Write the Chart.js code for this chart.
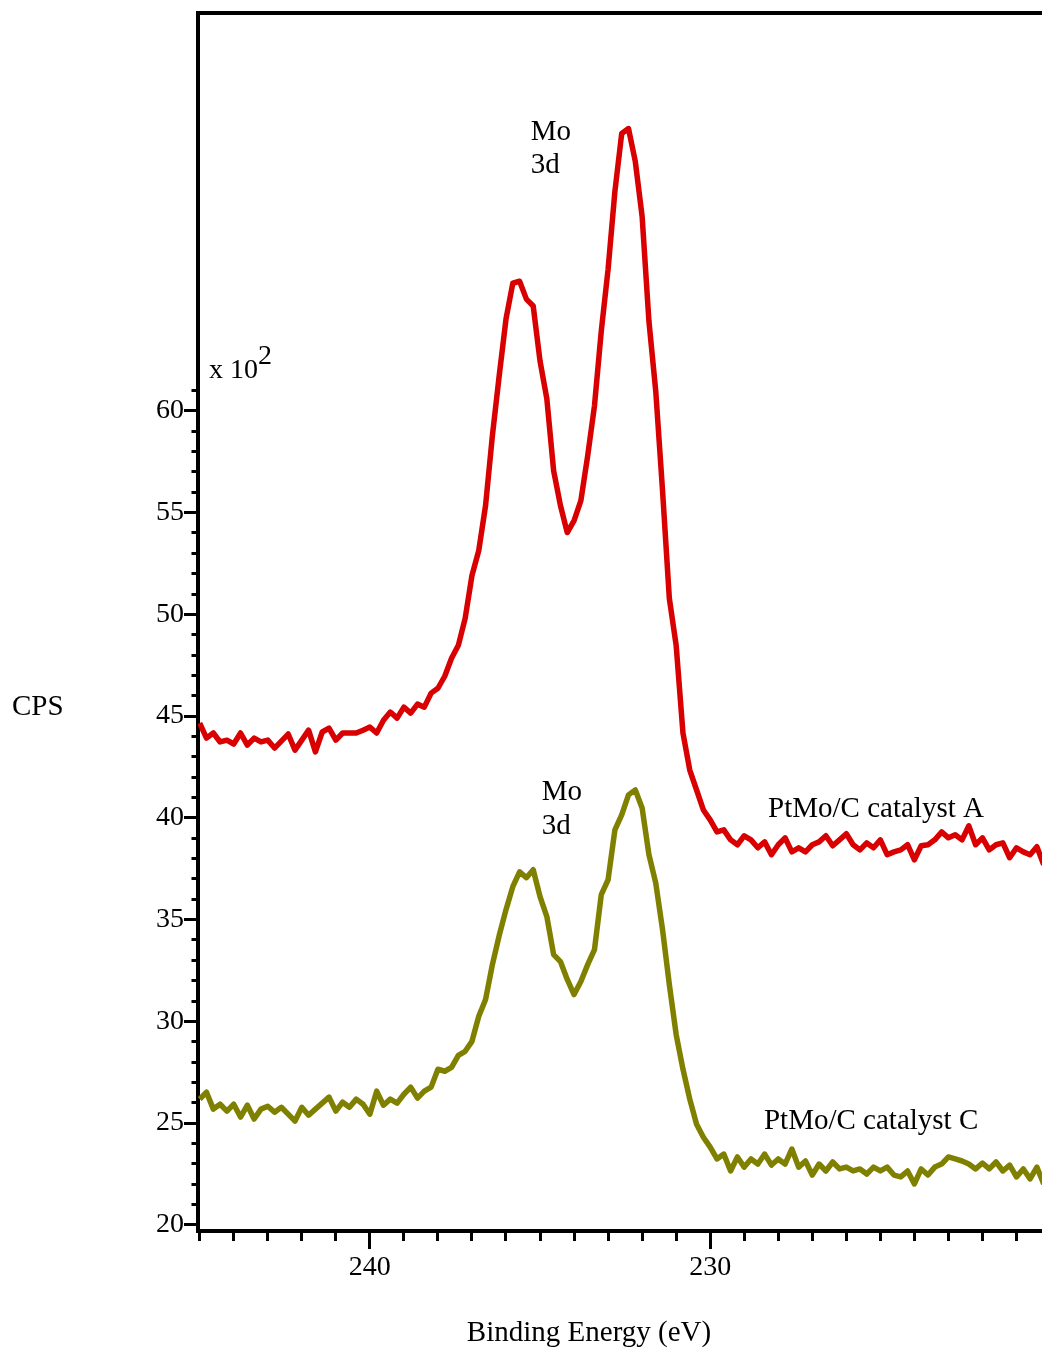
<!DOCTYPE html>
<html>
<head>
<meta charset="utf-8">
<title>Mo 3d XPS</title>
<script src="https://cdn.jsdelivr.net/npm/chart.js@4.4.1/dist/chart.umd.min.js"></script>
<style>
  html, body { margin: 0; padding: 0; background: #fff; }
  #xps { display: block; }
</style>
</head>
<body>
<canvas id="xps" width="1042" height="1350"></canvas>
<script>
// binding energy grid (eV), high to low
var energy = [
  245.0, 244.8, 244.6, 244.4, 244.2, 244.0, 243.8, 243.6, 243.4, 243.2,
  243.0, 242.8, 242.6, 242.4, 242.2, 242.0, 241.8, 241.6, 241.4, 241.2,
  241.0, 240.8, 240.6, 240.4, 240.2, 240.0, 239.8, 239.6, 239.4, 239.2,
  239.0, 238.8, 238.6, 238.4, 238.2, 238.0, 237.8, 237.6, 237.4, 237.2,
  237.0, 236.8, 236.6, 236.4, 236.2, 236.0, 235.8, 235.6, 235.4, 235.2,
  235.0, 234.8, 234.6, 234.4, 234.2, 234.0, 233.8, 233.6, 233.4, 233.2,
  233.0, 232.8, 232.6, 232.4, 232.2, 232.0, 231.8, 231.6, 231.4, 231.2,
  231.0, 230.8, 230.6, 230.4, 230.2, 230.0, 229.8, 229.6, 229.4, 229.2,
  229.0, 228.8, 228.6, 228.4, 228.2, 228.0, 227.8, 227.6, 227.4, 227.2,
  227.0, 226.8, 226.6, 226.4, 226.2, 226.0, 225.8, 225.6, 225.4, 225.2,
  225.0, 224.8, 224.6, 224.4, 224.2, 224.0, 223.8, 223.6, 223.4, 223.2,
  223.0, 222.8, 222.6, 222.4, 222.2, 222.0, 221.8, 221.6, 221.4, 221.2,
  221.0, 220.8, 220.6, 220.4, 220.2
];

// counts per second, x 10^2
var catalystA = [
  44.66, 43.92, 44.17, 43.73, 43.82, 43.63, 44.17, 43.58, 43.92, 43.73,
  43.82, 43.43, 43.77, 44.12, 43.33, 43.82, 44.31, 43.24, 44.22, 44.41,
  43.82, 44.17, 44.17, 44.17, 44.31, 44.46, 44.17, 44.80, 45.20, 44.90,
  45.44, 45.15, 45.59, 45.44, 46.13, 46.37, 46.96, 47.84, 48.48, 49.80,
  51.91, 53.14, 55.35, 58.78, 61.72, 64.51, 66.27, 66.37, 65.49, 65.15,
  62.45, 60.59, 57.06, 55.35, 54.02, 54.61, 55.59, 57.79, 60.25, 63.92,
  66.96, 70.78, 73.63, 73.87, 72.25, 69.56, 64.41, 60.98, 56.08, 50.78,
  48.48, 44.17, 42.35, 41.37, 40.39, 39.90, 39.31, 39.41, 38.92, 38.68,
  39.12, 38.92, 38.53, 38.82, 38.19, 38.68, 39.02, 38.33, 38.53, 38.33,
  38.68, 38.82, 39.12, 38.63, 38.92, 39.22, 38.68, 38.43, 38.77, 38.53,
  38.92, 38.19, 38.33, 38.43, 38.68, 37.94, 38.63, 38.68, 38.92, 39.31,
  39.02, 39.17, 38.92, 39.61, 38.68, 39.02, 38.43, 38.68, 38.77, 38.04,
  38.53, 38.33, 38.19, 38.58, 37.70
];

var catalystC = [
  26.18, 26.52, 25.69, 25.93, 25.59, 25.93, 25.30, 25.88, 25.20, 25.69,
  25.83, 25.54, 25.78, 25.44, 25.10, 25.78, 25.39, 25.69, 25.98, 26.28,
  25.59, 26.03, 25.78, 26.18, 25.93, 25.44, 26.57, 25.88, 26.18, 25.98,
  26.42, 26.77, 26.23, 26.57, 26.77, 27.65, 27.55, 27.74, 28.33, 28.53,
  29.02, 30.25, 31.08, 32.79, 34.22, 35.49, 36.62, 37.35, 37.06, 37.45,
  36.13, 35.15, 33.28, 32.94, 32.06, 31.32, 31.96, 32.79, 33.53, 36.23,
  36.96, 39.41, 40.15, 41.13, 41.37, 40.49, 38.19, 36.81, 34.51, 31.81,
  29.36, 27.65, 26.18, 24.95, 24.31, 23.82, 23.24, 23.48, 22.65, 23.34,
  22.84, 23.24, 22.99, 23.48, 22.94, 23.24, 22.99, 23.73, 22.84, 23.14,
  22.45, 22.99, 22.65, 23.09, 22.75, 22.84, 22.65, 22.75, 22.50, 22.84,
  22.65, 22.84, 22.45, 22.36, 22.65, 22.01, 22.75, 22.45, 22.84, 22.99,
  23.34, 23.24, 23.14, 22.99, 22.75, 23.04, 22.75, 23.09, 22.65, 22.94,
  22.36, 22.75, 22.26, 22.84, 22.01
];

// in-plot notes, placed in data coordinates (eV, CPS)
var noteText = ["Mo", "3d", "PtMo/C catalyst A", "Mo", "3d", "PtMo/C catalyst C"];
var noteE = [235.27, 235.27, 228.30, 234.95, 234.95, 228.42];
var noteCps = [73.3, 71.7, 40.03, 40.86, 39.19, 24.71];

var FONT = '"Liberation Serif", "Times New Roman", serif';

function points(ys) {
  return energy.map(function (e, i) {
    return { x: e, y: ys[i] };
  });
}

var notesPlugin = {
  id: "xpsNotes",
  afterDraw: function (chart) {
    var ctx = chart.ctx;
    var xs = chart.scales.x;
    var ys = chart.scales.y;
    var area = chart.chartArea;
    ctx.save();

    // top edge of the frame
    ctx.strokeStyle = "#000";
    ctx.lineWidth = 4;
    ctx.beginPath();
    ctx.moveTo(area.left - 2, area.top);
    ctx.lineTo(area.right, area.top);
    ctx.stroke();

    ctx.fillStyle = "#000";
    ctx.font = "29px " + FONT;
    ctx.textAlign = "left";
    ctx.textBaseline = "alphabetic";
    for (var i = 0; i < noteText.length; i++) {
      ctx.fillText(noteText[i], xs.getPixelForValue(noteE[i]), ys.getPixelForValue(noteCps[i]));
    }

    // multiplier above the y ticks
    ctx.font = "28px " + FONT;
    var mx = xs.getPixelForValue(244.73);
    var my = ys.getPixelForValue(61.63);
    ctx.fillText("x 10", mx, my);
    ctx.fillText("2", mx + ctx.measureText("x 10").width, my - 14);

    // axis titles
    ctx.font = "29px " + FONT;
    ctx.textBaseline = "middle";
    ctx.fillText("CPS", 12, 707);
    ctx.textAlign = "center";
    ctx.fillText("Binding Energy (eV)", 589, 1333);
    ctx.restore();
  },
};

new Chart(document.getElementById("xps"), {
  type: "line",
  data: {
    datasets: [
      {
        label: "PtMo/C catalyst A",
        data: points(catalystA),
        borderColor: "#d80000",
      },
      {
        label: "PtMo/C catalyst C",
        data: points(catalystC),
        borderColor: "#808000",
      },
    ],
  },
  options: {
    responsive: false,
    animation: false,
    devicePixelRatio: 1,
    layout: { padding: { top: 13, right: 0, bottom: 0, left: 0 } },
    elements: {
      line: { borderWidth: 5.5, tension: 0, borderJoinStyle: "round", fill: false },
      point: { radius: 0, hoverRadius: 0 },
    },
    plugins: {
      legend: { display: false },
      tooltip: { enabled: false },
    },
    scales: {
      x: {
        type: "linear",
        reverse: true,
        min: 220.25,
        max: 245.05,
        afterFit: function (s) {
          s.height = 119;
        },
        ticks: {
          stepSize: 1,
          includeBounds: false,
          autoSkip: false,
          maxRotation: 0,
          padding: 2,
          color: "#000",
          font: { family: FONT, size: 28 },
          callback: function (v) {
            return v % 10 === 0 ? String(v) : "";
          },
        },
        grid: {
          drawOnChartArea: false,
          tickLength: 18,
          tickWidth: 3,
          tickColor: "#000",
          tickBorderDash: function (c) {
            return c.tick && c.tick.value % 10 === 0 ? [] : [8, 40];
          },
        },
        border: { color: "#000", width: 4 },
      },
      y: {
        type: "linear",
        min: 19.7,
        max: 79.55,
        afterFit: function (s) {
          s.width = 198;
          // ticks stop at 61, so no room is needed above them
          s.paddingTop = 0;
        },
        afterBuildTicks: function (s) {
          s.ticks = s.ticks.filter(function (t) {
            return t.value >= 20 && t.value <= 61;
          });
        },
        ticks: {
          stepSize: 1,
          includeBounds: false,
          autoSkip: false,
          padding: 0,
          color: "#000",
          font: { family: FONT, size: 28 },
          callback: function (v) {
            return v % 5 === 0 && v <= 60 ? String(v) : "";
          },
        },
        grid: {
          drawOnChartArea: false,
          tickLength: 14,
          tickWidth: 3,
          tickColor: "#000",
          tickBorderDash: function (c) {
            return c.tick && c.tick.value % 5 === 0 ? [] : [0, 7.5, 4.5, 40];
          },
        },
        border: { color: "#000", width: 4 },
      },
    },
  },
  plugins: [notesPlugin],
});
</script>
</body>
</html>
